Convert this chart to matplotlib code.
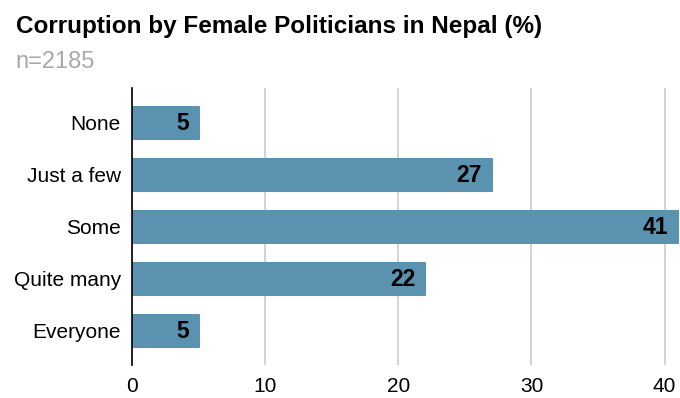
import matplotlib
matplotlib.use('Agg')
import matplotlib.pyplot as plt

# ── Data ──────────────────────────────────────────────────────────────────────
categories = ['None', 'Just a few', 'Some', 'Quite many', 'Everyone']
values     = [5, 27, 41, 22, 5]
x_ticks    = [0, 10, 20, 30, 40]

BAR_COLOR = '#5b92af'
plt.rcParams['font.family'] = ['Liberation Sans', 'DejaVu Sans']

fig = plt.figure(figsize=(6.8, 3.98), dpi=100)
ax = fig.add_axes([0.194, 0.083, 0.805, 0.696])

ypos = list(range(len(categories)))
# thin edge with round joins gives the slightly rounded bar corners
ax.barh(ypos, values, height=0.62, color=BAR_COLOR, edgecolor=BAR_COLOR,
        linewidth=1.5, joinstyle='round', zorder=3)

for y, v in zip(ypos, values):
    ax.annotate(str(v), xy=(v, y), xytext=(-7, -0.8), textcoords='offset points',
                ha='right', va='center', fontsize=16.5, fontweight='bold',
                color='black', zorder=4)

ax.set_yticks(ypos)
ax.set_yticklabels(categories, fontsize=15)
ax.set_xticks(x_ticks)
ax.set_xticklabels([str(t) for t in x_ticks], fontsize=15)
ax.set_xlim(0, 41.1)
ax.set_ylim(4.66, -0.67)

ax.grid(axis='x', color='#cccccc', linewidth=1.2, zorder=0)
ax.tick_params(length=0, pad=8)
ax.tick_params(axis='x', pad=9)
for s in ['top', 'right', 'bottom']:
    ax.spines[s].set_visible(False)
ax.spines['left'].set_color('black')
ax.spines['left'].set_linewidth(1.2)
ax.spines['left'].set_zorder(5)

fig.text(0.024, 0.918, 'Corruption by Female Politicians in Nepal (%)',
         fontsize=17.5, fontweight='bold', color='black', ha='left', va='baseline')
fig.text(0.022, 0.83, 'n=2185', fontsize=17, color='#a8a8a8',
         ha='left', va='baseline')

plt.savefig('out.png', dpi=100)
plt.close()
